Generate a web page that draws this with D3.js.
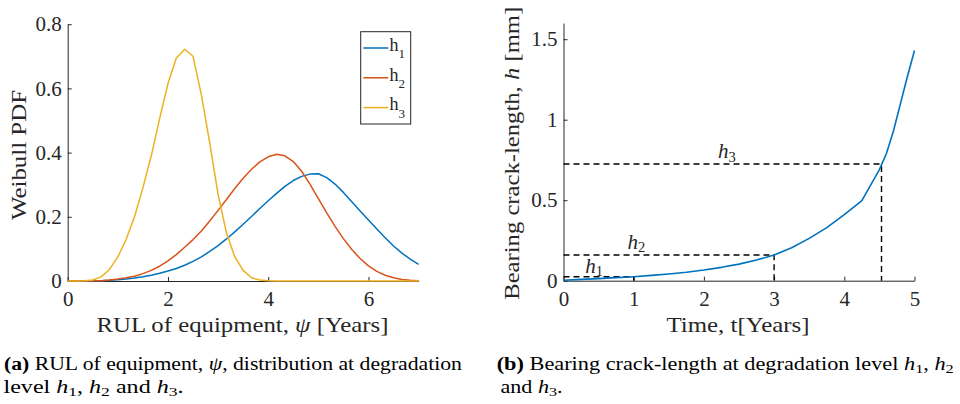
<!DOCTYPE html>
<html>
<head>
<meta charset="utf-8">
<script src="https://cdn.jsdelivr.net/npm/d3@7"></script>
<style>
  body { margin: 0; background: #fff; }
  text { font-family: "Liberation Serif", "Times New Roman", serif; fill: #262626; }
</style>
</head>
<body>
<svg id="fig" width="960" height="404"></svg>
<script>
// ---- data: (a) Weibull PDF of RUL at each degradation level
var psi = [0, 0.167, 0.333, 0.5, 0.667, 0.833, 1, 1.167, 1.333, 1.5, 1.667, 1.833,
  2, 2.167, 2.333, 2.5, 2.667, 2.833, 3, 3.167, 3.333, 3.5, 3.667, 3.833,
  4, 4.167, 4.333, 4.5, 4.667, 4.833, 5, 5.167, 5.333, 5.5, 5.667, 5.833,
  6, 6.167, 6.333, 6.5, 6.667, 6.833, 7];
var pdfH1 = [0, 0, 0, 0.0003, 0.001, 0.002, 0.004, 0.006, 0.009, 0.013, 0.018, 0.024,
  0.031, 0.039, 0.049, 0.061, 0.075, 0.092, 0.11, 0.131, 0.153, 0.177, 0.201, 0.226,
  0.25, 0.273, 0.295, 0.313, 0.326, 0.333, 0.334, 0.322, 0.302, 0.276, 0.247, 0.218,
  0.19, 0.162, 0.135, 0.109, 0.087, 0.068, 0.052];
var pdfH2 = [0, 0, 0, 0.0005, 0.001, 0.003, 0.006, 0.01, 0.015, 0.023, 0.033, 0.046,
  0.063, 0.082, 0.105, 0.129, 0.156, 0.187, 0.22, 0.254, 0.288, 0.32, 0.348, 0.371,
  0.387, 0.395, 0.39, 0.372, 0.342, 0.302, 0.257, 0.212, 0.17, 0.132, 0.098, 0.07,
  0.047, 0.03, 0.018, 0.01, 0.005, 0.002, 0.001];
var pdfH3 = [0, 0, 0.001, 0.003, 0.013, 0.036, 0.075, 0.13, 0.2, 0.29, 0.39, 0.505,
  0.615, 0.695, 0.722, 0.7, 0.58, 0.43, 0.27, 0.15, 0.075, 0.033, 0.01, 0.003,
  0.001, 0, 0, 0, 0, 0, 0, 0, 0, 0, 0, 0,
  0, 0, 0, 0, 0, 0, 0];
var seriesNames = ["1", "2", "3"];
var seriesColors = ["#0072BD", "#D95319", "#EDB120"];
var xTicksA = [0, 2, 4, 6];
var yTicksA = [0, 0.2, 0.4, 0.6, 0.8];

// ---- data: (b) crack length growth
var time = [0, 0.25, 0.5, 0.75, 1, 1.25, 1.5, 1.75, 2, 2.25, 2.5, 2.75, 3,
  3.25, 3.5, 3.75, 4, 4.25, 4.5, 4.6, 4.7, 4.8, 4.9, 5];
var crack = [0.003, 0.008, 0.013, 0.019, 0.025, 0.033, 0.042, 0.052, 0.066, 0.083, 0.103, 0.128, 0.16,
  0.205, 0.263, 0.33, 0.41, 0.497, 0.69, 0.79, 0.93, 1.1, 1.27, 1.43];
var levelT = [1, 3, 4.53];
var levelH = [0.025, 0.16, 0.725];
var levelLabelT = [0.31, 0.91, 2.2];
var levelLabelH = [0.048, 0.2, 0.76];
var xTicksB = [0, 1, 2, 3, 4, 5];
var yTicksB = [0, 0.5, 1, 1.5];

var svg = d3.select("#fig");
var axisColor = "#262626";

// rich text helper: segments of [text, kind] with kind in n/b/i/sub
function richText(sel, segs, subSize, subShift) {
  segs.forEach(function(s, i) {
    var t = sel.append("tspan").text(s[0]);
    if (s[1] == "b") t.attr("font-weight", "bold");
    if (s[1] == "i") t.attr("font-style", "italic");
    if (s[1] == "sub") {
      t.attr("font-size", subSize).attr("dy", subShift);
    } else if (i > 0 && segs[i - 1][1] == "sub") {
      t.attr("dy", -subShift);
    }
  });
  return sel;
}

function styleAxis(g) {
  g.attr("font-family", null);
  g.select(".domain").attr("stroke", axisColor).attr("stroke-width", 1);
  g.selectAll(".tick line").attr("stroke", axisColor).attr("stroke-width", 1);
  g.selectAll(".tick text").attr("font-size", 21).attr("fill", axisColor);
}

//-------------------------------
// (a) Weibull PDF
var xA = d3.scaleLinear().domain([0, 7]).range([67.7, 418.6]);
var yA = d3.scaleLinear().domain([0, 0.8]).range([281, 24.2]);
var gA = svg.append("g");

gA.append("g").attr("transform", "translate(0," + yA(0) + ")")
  .call(d3.axisBottom(xA).tickValues(xTicksA).tickSizeInner(-4).tickSizeOuter(0)
    .tickPadding(10.5).tickFormat(function(d) { return d; }))
  .call(styleAxis);
gA.append("g").attr("transform", "translate(" + xA(0) + ",0)")
  .call(d3.axisLeft(yA).tickValues(yTicksA).tickSizeInner(-4).tickSizeOuter(0)
    .tickPadding(6).tickFormat(function(d) { return d; }))
  .call(styleAxis);

var pdfs = [pdfH1, pdfH2, pdfH3];
var lineA = d3.line()
  .x(function(d) { return xA(d[0]); })
  .y(function(d) { return yA(d[1]); });
pdfs.forEach(function(vals, i) {
  gA.append("path")
    .datum(psi.map(function(p, k) { return [p, vals[k]]; }))
    .attr("d", lineA)
    .attr("fill", "none")
    .attr("stroke", seriesColors[i])
    .attr("stroke-width", 1.5)
    .attr("stroke-linejoin", "round");
});

// legend
var leg = gA.append("g");
leg.append("rect").attr("x", 360.7).attr("y", 31.7).attr("width", 50).attr("height", 92.3)
  .attr("fill", "#fff").attr("stroke", axisColor).attr("stroke-width", 1);
seriesNames.forEach(function(n, i) {
  var ly = 48 + i * 29.8;
  leg.append("line").attr("x1", 363.3).attr("x2", 388.3).attr("y1", ly).attr("y2", ly)
    .attr("stroke", seriesColors[i]).attr("stroke-width", 1.5);
  var t = leg.append("text").attr("x", 389.5).attr("y", ly + 2.8).attr("font-size", 18);
  richText(t, [["h", "n"], [n, "sub"]], 13, 7.5);
});

gA.append("text").attr("x", 242.5).attr("y", 332).attr("text-anchor", "middle")
  .attr("font-size", 21).attr("textLength", 292).attr("lengthAdjust", "spacingAndGlyphs")
  .call(richText, [["RUL of equipment, ", "n"], ["\u03c8", "i"], [" [Years]", "n"]]);
gA.append("text").attr("transform", "translate(26,155) rotate(-90)")
  .attr("text-anchor", "middle").attr("font-size", 21)
  .attr("textLength", 130).attr("lengthAdjust", "spacingAndGlyphs")
  .text("Weibull PDF");

//-------------------------------
// (b) crack length
var xB = d3.scaleLinear().domain([0, 5]).range([563.5, 914.5]);
var yB = d3.scaleLinear().domain([0, 1.6]).range([280.7, 23.1]);
var gB = svg.append("g");

gB.append("g").attr("transform", "translate(0," + yB(0) + ")")
  .call(d3.axisBottom(xB).tickValues(xTicksB).tickSizeInner(-4).tickSizeOuter(0)
    .tickPadding(10.5).tickFormat(function(d) { return d; }))
  .call(styleAxis);
gB.append("g").attr("transform", "translate(" + xB(0) + ",0)")
  .call(d3.axisLeft(yB).tickValues(yTicksB).tickSizeInner(-4).tickSizeOuter(0)
    .tickPadding(6).tickFormat(function(d) { return d; }))
  .call(styleAxis);

var lineB = d3.line()
  .x(function(d) { return xB(d[0]); })
  .y(function(d) { return yB(d[1]); });

// dashed guides at each level
levelT.forEach(function(t, i) {
  gB.append("path")
    .datum([[0, levelH[i]], [t, levelH[i]], [t, 0]])
    .attr("d", lineB)
    .attr("fill", "none").attr("stroke", "#000").attr("stroke-width", 1.4)
    .attr("stroke-dasharray", "6,4");
  var lt = gB.append("text").attr("x", xB(levelLabelT[i])).attr("y", yB(levelLabelH[i]))
    .attr("font-size", 21).attr("fill", "#000");
  richText(lt, [["h", "i"], [seriesNames[i], "sub"]], 14.5, 3.5);
});

gB.append("path")
  .datum(time.map(function(t, k) { return [t, crack[k]]; }))
  .attr("d", lineB)
  .attr("fill", "none").attr("stroke", seriesColors[0]).attr("stroke-width", 1.6)
  .attr("stroke-linejoin", "round");

gB.append("text").attr("x", 738).attr("y", 332).attr("text-anchor", "middle")
  .attr("font-size", 21).attr("textLength", 143).attr("lengthAdjust", "spacingAndGlyphs")
  .text("Time, t[Years]");
gB.append("text").attr("transform", "translate(519,153.3) rotate(-90)")
  .attr("text-anchor", "middle").attr("font-size", 21)
  .attr("textLength", 293).attr("lengthAdjust", "spacingAndGlyphs")
  .call(richText, [["Bearing crack-length, ", "n"], ["h", "i"], [" [mm]", "n"]]);

//-------------------------------
// captions
var capA1 = [["(a)", "b"], [" RUL of equipment, ", "n"], ["\u03c8", "i"], [", distribution at degradation", "n"]];
var capA2 = [["level ", "n"], ["h", "i"], ["1", "sub"], [", ", "n"], ["h", "i"], ["2", "sub"],
  [" and ", "n"], ["h", "i"], ["3", "sub"], [".", "n"]];
var capB1 = [["(b)", "b"], [" Bearing crack-length at degradation level ", "n"], ["h", "i"], ["1", "sub"],
  [", ", "n"], ["h", "i"], ["2", "sub"]];
var capB2 = [["and ", "n"], ["h", "i"], ["3", "sub"], [".", "n"]];

function caption(x, y, segs, width) {
  var t = svg.append("text").attr("x", x).attr("y", y)
    .attr("font-size", 18.5).style("fill", "#000");
  richText(t, segs, 13.5, 3);
  if (width) t.attr("textLength", width).attr("lengthAdjust", "spacingAndGlyphs");
}
caption(4, 370, capA1, 458);
caption(3.5, 392.5, capA2, 180);
caption(496.7, 370, capB1, 457);
caption(500.5, 392.5, capB2, 62);
</script>
</body>
</html>
